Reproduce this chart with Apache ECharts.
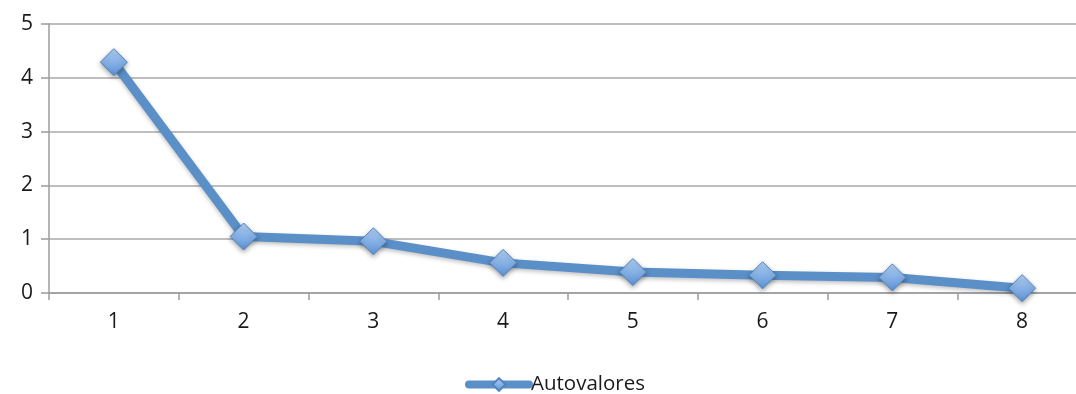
<!DOCTYPE html>
<html>
<head>
<meta charset="utf-8">
<script src="https://cdn.jsdelivr.net/npm/echarts@6/dist/echarts.min.js"></script>
<style>
  html, body { margin: 0; padding: 0; background: #fff; }
  #chart { width: 1076px; height: 394px; }
</style>
</head>
<body>
<div id="chart"></div>
<script>
// Scree plot: eigenvalue per component
const categories = ['1', '2', '3', '4', '5', '6', '7', '8'];
const autovalores = [4.29, 1.05, 0.96, 0.56, 0.39, 0.33, 0.29, 0.09];
const seriesName = 'Autovalores';

const chart = echarts.init(document.getElementById('chart'));
const fontFamily = '"Open Sans", Lato, sans-serif';
const lineBlue = '#5a8fc8';

chart.setOption({
  animation: false,
  backgroundColor: '#ffffff',
  grid: { left: 49, right: -11, top: 24, bottom: 101, outerBoundsMode: 'none', containLabel: false },
  legend: {
    top: 374,
    left: 465,
    padding: 0,
    itemWidth: 60,
    itemHeight: 16,
    itemGap: 0,
    lineStyle: { width: 8, color: lineBlue, cap: 'round' },
    textStyle: { fontFamily, fontSize: 20.5, color: '#1a1a1a', padding: [0, 0, 0, -3] },
    data: [seriesName]
  },
  xAxis: {
    type: 'category',
    data: categories,
    boundaryGap: true,
    axisLine: { lineStyle: { color: '#9c9c9c', width: 1.5 } },
    axisTick: { show: true, length: 7, lineStyle: { color: '#9c9c9c', width: 1.5 } },
    axisLabel: { fontFamily, fontSize: 21, color: '#1a1a1a', margin: 19 },
    splitLine: { show: false }
  },
  yAxis: {
    type: 'value',
    min: 0,
    max: 5,
    interval: 1,
    axisLine: { show: true, lineStyle: { color: '#9c9c9c', width: 1.5 } },
    axisTick: { show: true, length: 8, lineStyle: { color: '#9c9c9c', width: 1.5 } },
    axisLabel: { fontFamily, fontSize: 21, color: '#1a1a1a', margin: 16 },
    splitLine: { lineStyle: { color: '#a8a8a8', width: 1.5 } }
  },
  series: [{
    name: seriesName,
    type: 'line',
    data: autovalores,
    symbol: 'diamond',
    symbolSize: 27,
    lineStyle: { color: lineBlue, width: 9, shadowColor: 'rgba(0,0,0,0.25)', shadowBlur: 4, shadowOffsetY: 2 },
    itemStyle: {
      color: new echarts.graphic.LinearGradient(0, 0, 0, 1, [
        { offset: 0, color: '#b3d1f3' },
        { offset: 0.5, color: '#86b1e6' },
        { offset: 1, color: '#5d91d2' }
      ]),
      borderColor: '#4f83c2',
      borderWidth: 1,
      shadowColor: 'rgba(0,0,0,0.35)',
      shadowBlur: 5,
      shadowOffsetY: 2
    },
    z: 3
  }]
});
</script>
</body>
</html>
